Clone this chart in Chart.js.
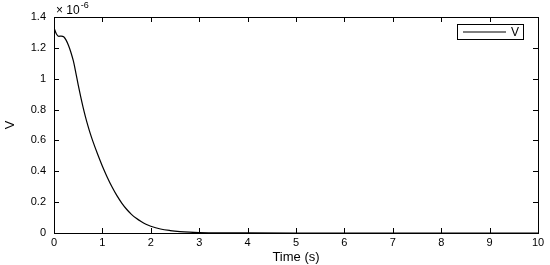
<!DOCTYPE html>
<html>
<head>
<meta charset="utf-8">
<script src="https://cdn.jsdelivr.net/npm/chart.js@4/dist/chart.umd.min.js"></script>
<style>
  html, body { margin: 0; padding: 0; background: #fff; }
  #wrap { width: 550px; height: 265px; }
</style>
</head>
<body>
<div id="wrap"><canvas id="chart" width="550" height="265"></canvas></div>
<script>
// time (s)
const time = [0, 0.05, 0.1, 0.15, 0.2, 0.25, 0.3, 0.35, 0.4, 0.45, 0.5, 0.55, 0.6, 0.65, 0.7, 0.75, 0.8, 0.9, 1.0,
  1.1, 1.2, 1.3, 1.4, 1.5, 1.6, 1.7, 1.8, 1.9, 2.0, 2.2, 2.4, 2.6, 2.8, 3.0, 3.5, 4.0,
  5, 6, 7, 8, 9, 10];
// V, in units of 1e-6
const voltage = [1.33, 1.29, 1.275, 1.276, 1.272, 1.25, 1.215, 1.17, 1.115, 1.04, 0.96, 0.885, 0.816, 0.753, 0.696, 0.644, 0.597, 0.512, 0.433,
  0.362, 0.298, 0.242, 0.194, 0.154, 0.121, 0.095, 0.074, 0.057, 0.044, 0.026, 0.016, 0.0095, 0.0056, 0.0033, 0.001, 0.0003,
  0, 0, 0, 0, 0, 0];
const xTicks = [0, 1, 2, 3, 4, 5, 6, 7, 8, 9, 10];
const yTicks = [0, 0.2, 0.4, 0.6, 0.8, 1, 1.2, 1.4];
const seriesName = "V";

const FONT = "'Liberation Sans', Arial, sans-serif";

// matlab style box, inward ticks, exponent label and legend
const matlabBox = {
  id: "matlabBox",
  afterDraw(chart) {
    const { ctx, chartArea: a, scales } = chart;
    const x = scales.x, y = scales.y;
    ctx.save();
    ctx.strokeStyle = "#000";
    ctx.lineWidth = 1;
    ctx.strokeRect(a.left + 0.5, a.top + 0.5, a.right - a.left, a.bottom - a.top);
    ctx.beginPath();
    const tl = 5;
    xTicks.forEach(v => {
      const px = Math.round(x.getPixelForValue(v)) + 0.5;
      ctx.moveTo(px, a.bottom); ctx.lineTo(px, a.bottom - tl);
      ctx.moveTo(px, a.top); ctx.lineTo(px, a.top + tl);
    });
    yTicks.forEach(v => {
      const py = Math.round(y.getPixelForValue(v)) + 0.5;
      ctx.moveTo(a.left, py); ctx.lineTo(a.left + tl, py);
      ctx.moveTo(a.right, py); ctx.lineTo(a.right - tl, py);
    });
    ctx.stroke();

    // exponent
    ctx.fillStyle = "#000";
    ctx.textBaseline = "alphabetic";
    ctx.textAlign = "left";
    ctx.font = "12px " + FONT;
    ctx.fillText("\u00d7 10", a.left + 2, a.top - 3);
    const w = ctx.measureText("\u00d7 10").width;
    ctx.font = "9px " + FONT;
    ctx.fillText("-6", a.left + 2 + w + 1, a.top - 9);

    // legend
    const ds = chart.data.datasets[0];
    const bx = 457, by = 24, bw = 66, bh = 15;
    ctx.fillStyle = "#fff";
    ctx.fillRect(bx, by, bw, bh);
    ctx.strokeStyle = "#000";
    ctx.lineWidth = 1;
    ctx.strokeRect(bx + 0.5, by + 0.5, bw, bh);
    ctx.beginPath();
    ctx.strokeStyle = ds.borderColor;
    ctx.lineWidth = ds.borderWidth;
    ctx.moveTo(bx + 6, by + 8); ctx.lineTo(bx + 49, by + 8);
    ctx.stroke();
    ctx.fillStyle = "#000";
    ctx.font = "12px " + FONT;
    ctx.textBaseline = "middle";
    ctx.fillText(ds.label, bx + 54, by + 8.5);
    ctx.restore();
  }
};

new Chart(document.getElementById("chart"), {
  type: "line",
  data: {
    datasets: [{
      label: seriesName,
      data: time.map((t, i) => ({ x: t, y: voltage[i] })),
      borderColor: "#000",
      borderWidth: 1.2,
      pointRadius: 0,
      cubicInterpolationMode: "monotone",
      fill: false
    }]
  },
  options: {
    responsive: false,
    animation: false,
    layout: { padding: { top: 17, right: 12, left: 3, bottom: 0 } },
    plugins: { legend: { display: false }, tooltip: { enabled: false } },
    scales: {
      x: {
        type: "linear",
        min: 0, max: 10,
        afterBuildTicks: s => { s.ticks = xTicks.map(v => ({ value: v })); },
        afterFit: s => { s.height = 32; },
        grid: { display: false, drawTicks: false },
        border: { display: false },
        ticks: { color: "#000", font: { family: FONT, size: 11 }, padding: 3, maxRotation: 0, callback: v => String(v) },
        title: { display: true, text: "Time (s)", color: "#000", font: { family: FONT, size: 13 }, padding: { top: 0, bottom: 0 } }
      },
      y: {
        min: 0, max: 1.4,
        afterBuildTicks: s => { s.ticks = yTicks.map(v => ({ value: v })); },
        afterFit: s => { s.width = 51; },
        grid: { display: false, drawTicks: false },
        border: { display: false },
        ticks: { color: "#000", font: { family: FONT, size: 11 }, padding: 8, callback: v => String(v) },
        title: { display: true, text: "V", color: "#000", font: { family: FONT, size: 13 }, padding: { top: 0, bottom: 0 } }
      }
    }
  },
  plugins: [matlabBox]
});
</script>
</body>
</html>
